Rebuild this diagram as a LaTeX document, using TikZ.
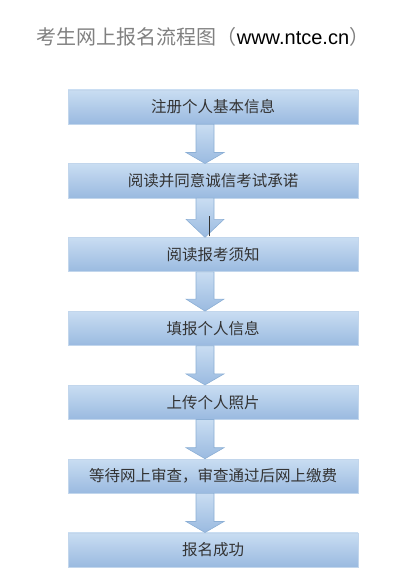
\documentclass[tikz,border=0pt]{standalone}
\usepackage{fontspec}
\setmainfont{Liberation Sans}
\newfontfamily\cjk{Noto Sans CJK SC}
\usetikzlibrary{positioning,calc}
\definecolor{boxtop}{HTML}{C9DDF2}
\definecolor{boxbot}{HTML}{9ABAE0}
\definecolor{boxline}{HTML}{C2D6EC}
\definecolor{arrline}{HTML}{8CAFD5}
\definecolor{titlegray}{HTML}{808080}
\definecolor{textgray}{HTML}{333333}
% block arrow from the bottom of #1 to the top of #2, head length #3
\newcommand{\flowarrow}[3]{%
  \path[arrowbody] ($(#1.south)+(-17,0)$) -- ($(#1.south)+(1,0)$)
    -- ($(#2.north)+(1,-#3)$) -- ($(#2.north)+(11,-#3)$) -- ($(#2.north)+(-8,0)$)
    -- ($(#2.north)+(-27,-#3)$) -- ($(#2.north)+(-17,-#3)$) -- cycle;}
\begin{document}
\begin{tikzpicture}[x=1pt,y=-1pt,
  stepbox/.style = {minimum width=290pt, minimum height=34pt, inner sep=0pt,
    top color=boxtop, bottom color=boxbot, draw=boxline, line width=0.6pt,
    text=textgray, font=\cjk\fontsize{15.5}{18}\selectfont},
  arrowbody/.style = {top color=boxtop, bottom color=boxbot, draw=arrline, line width=0.6pt}]
  \useasboundingbox (0,0) rectangle (419,585);
  \node[font=\fontsize{20}{24}\selectfont] (title) at (203,37)
    {{\cjk\color{titlegray}考生网上报名流程图（}www.ntce.cn{\cjk\color{titlegray}）}};
  \node[stepbox] (1) at (213,107) {注册个人基本信息};
  \node[stepbox] (2) [below=39.2pt of 1] {阅读并同意诚信考试承诺};
  \node[stepbox] (3) [below=39.2pt of 2] {阅读报考须知};
  \node[stepbox] (4) [below=39.2pt of 3] {填报个人信息};
  \node[stepbox] (5) [below=39.2pt of 4] {上传个人照片};
  \node[stepbox] (6) [below=39.2pt of 5] {等待网上审查，审查通过后网上缴费};
  \node[stepbox] (7) [below=39.2pt of 6] {报名成功};
  \flowarrow{1}{2}{11}
  \flowarrow{2}{3}{18}
  \flowarrow{3}{4}{12}
  \flowarrow{4}{5}{11}
  \flowarrow{5}{6}{11}
  \flowarrow{6}{7}{11}
  \draw[textgray, line width=0.5pt] ($(3.north)+(-4,-1)$) -- ($(3.north)+(-4,-21)$);
\end{tikzpicture}
\end{document}
